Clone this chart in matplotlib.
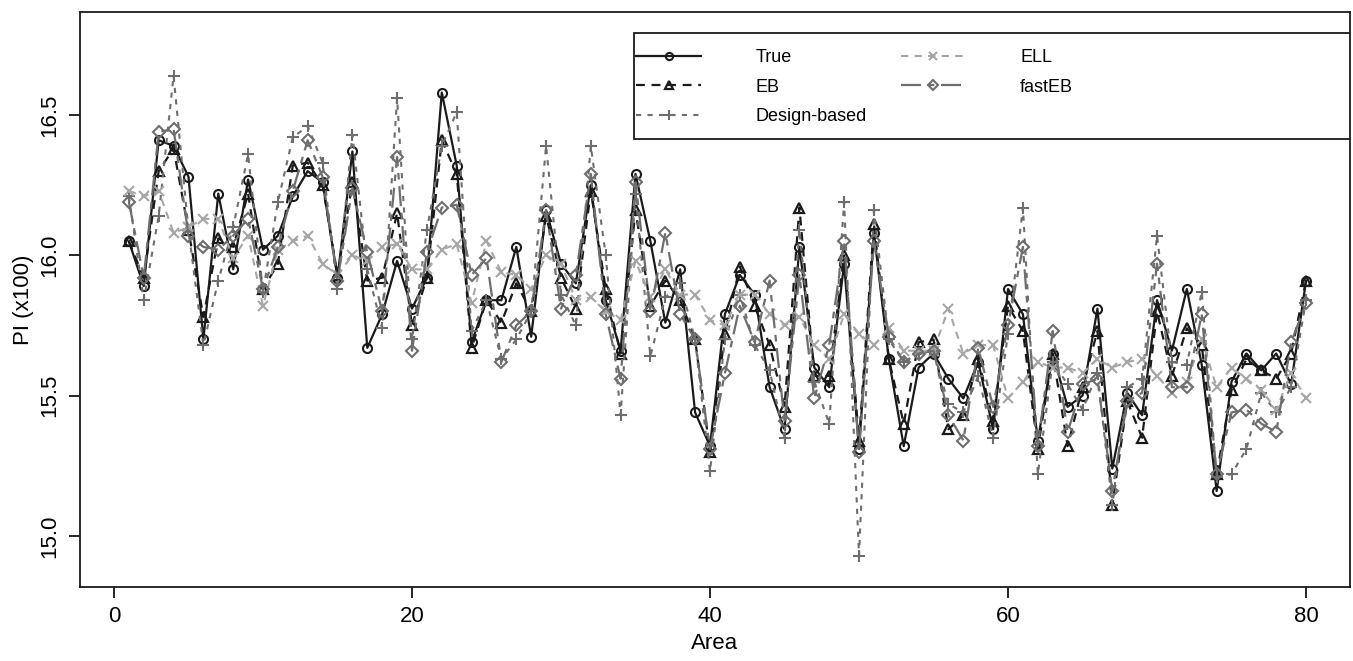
import numpy as np
import matplotlib
matplotlib.use("Agg")
import matplotlib.pyplot as plt
from matplotlib.patches import Rectangle

plt.rcParams['font.family'] = ['Liberation Sans', 'DejaVu Sans']

area = np.arange(1, 81)

true_pi = [16.05, 15.89, 16.41, 16.39, 16.28, 15.70, 16.22, 15.95, 16.27, 16.02,
           16.07, 16.21, 16.30, 16.26, 15.92, 16.37, 15.67, 15.79, 15.98, 15.81,
           15.92, 16.58, 16.32, 15.69, 15.84, 15.84, 16.03, 15.71, 16.16, 15.97,
           15.90, 16.25, 15.84, 15.66, 16.29, 16.05, 15.76, 15.95, 15.44, 15.32,
           15.79, 15.93, 15.86, 15.53, 15.38, 16.03, 15.60, 15.53, 15.97, 15.31,
           16.08, 15.63, 15.32, 15.60, 15.65, 15.56, 15.49, 15.62, 15.38, 15.88,
           15.79, 15.34, 15.65, 15.46, 15.50, 15.81, 15.24, 15.51, 15.43, 15.84,
           15.66, 15.88, 15.61, 15.16, 15.55, 15.65, 15.59, 15.65, 15.54, 15.91]

eb = [16.05, 15.92, 16.30, 16.38, 16.09, 15.78, 16.06, 16.03, 16.22, 15.88,
      15.97, 16.32, 16.33, 16.25, 15.93, 16.26, 15.91, 15.92, 16.15, 15.75,
      15.92, 16.41, 16.29, 15.67, 15.84, 15.76, 15.90, 15.80, 16.14, 15.92,
      15.81, 16.23, 15.88, 15.65, 16.16, 15.82, 15.91, 15.84, 15.70, 15.30,
      15.72, 15.96, 15.82, 15.68, 15.46, 16.17, 15.57, 15.57, 16.00, 15.34,
      16.11, 15.63, 15.40, 15.69, 15.70, 15.38, 15.43, 15.63, 15.41, 15.82,
      15.73, 15.31, 15.65, 15.32, 15.53, 15.73, 15.11, 15.48, 15.35, 15.80,
      15.57, 15.74, 15.68, 15.22, 15.52, 15.63, 15.59, 15.56, 15.65, 15.91]

design = [16.21, 15.84, 16.14, 16.64, 16.09, 15.68, 15.91, 16.10, 16.36, 15.87,
          16.19, 16.42, 16.46, 16.33, 15.88, 16.43, 15.95, 15.74, 16.56, 15.70,
          16.09, 16.39, 16.51, 15.73, 15.84, 15.63, 15.70, 15.80, 16.39, 15.86,
          15.75, 16.39, 16.00, 15.43, 16.22, 15.64, 15.85, 15.90, 15.70, 15.23,
          15.70, 15.86, 15.68, 15.59, 15.35, 16.09, 15.55, 15.40, 16.19, 14.93,
          16.16, 15.70, 15.62, 15.65, 15.66, 15.47, 15.44, 15.57, 15.35, 15.72,
          16.17, 15.22, 15.62, 15.54, 15.45, 15.58, 15.11, 15.53, 15.56, 16.07,
          15.62, 15.61, 15.87, 15.21, 15.22, 15.31, 15.51, 15.44, 15.53, 15.84]

ell = [16.23, 16.21, 16.23, 16.08, 16.10, 16.13, 16.13, 15.99, 16.07, 15.82,
       16.02, 16.05, 16.07, 15.97, 15.93, 16.00, 15.98, 16.03, 16.04, 15.95,
       15.95, 16.02, 16.04, 15.83, 16.05, 15.94, 15.93, 15.88, 16.00, 15.97,
       15.84, 15.85, 15.80, 15.77, 15.98, 15.85, 15.95, 15.86, 15.86, 15.77,
       15.75, 15.86, 15.86, 15.79, 15.75, 15.78, 15.68, 15.63, 15.79, 15.72,
       15.68, 15.74, 15.66, 15.66, 15.66, 15.81, 15.65, 15.68, 15.68, 15.49,
       15.55, 15.62, 15.60, 15.60, 15.58, 15.63, 15.60, 15.62, 15.63, 15.57,
       15.51, 15.55, 15.70, 15.53, 15.60, 15.56, 15.52, 15.45, 15.58, 15.49]

fast_eb = [16.19, 15.92, 16.44, 16.45, 16.07, 16.03, 16.02, 16.07, 16.13, 15.88,
           16.03, 16.23, 16.41, 16.28, 15.91, 16.24, 16.01, 15.80, 16.35, 15.66,
           16.01, 16.17, 16.18, 15.93, 15.99, 15.62, 15.75, 15.80, 16.16, 15.81,
           15.93, 16.29, 15.79, 15.56, 16.26, 15.80, 16.08, 15.79, 15.70, 15.31,
           15.58, 15.82, 15.69, 15.91, 15.41, 15.93, 15.49, 15.68, 16.05, 15.30,
           16.05, 15.71, 15.62, 15.65, 15.66, 15.43, 15.34, 15.67, 15.46, 15.75,
           16.03, 15.32, 15.73, 15.37, 15.54, 15.56, 15.16, 15.48, 15.51, 15.97,
           15.53, 15.53, 15.79, 15.22, 15.44, 15.45, 15.40, 15.37, 15.69, 15.83]

fig = plt.figure(figsize=(13.53, 6.61), dpi=100)
ax = fig.add_axes([80 / 1353, 74 / 661, 1270 / 1353, 575 / 661])

ax.plot(area, true_pi, color="#1a1a1a", lw=1.6, ls="-", marker="o", ms=6.5,
        mfc="none", mew=1.5, label="True")
ax.plot(area, eb, color="#1a1a1a", lw=1.6, ls=(0, (4, 3)), marker="^", ms=7,
        mfc="none", mew=1.6, label="EB")
ax.plot(area, design, color="#6e6e6e", lw=1.5, ls=(0, (2.5, 3)), marker="+", ms=9,
        mew=1.5, label="Design-based")
ax.plot(area, ell, color="#a6a6a6", lw=1.5, ls=(0, (3.5, 3)), marker="x", ms=7,
        mew=1.5, label="ELL")
ax.plot(area, fast_eb, color="#6e6e6e", lw=1.6, ls=(0, (9, 3, 3, 3)), marker="D",
        ms=6, mfc="none", mew=1.5, label="fastEB")

ax.set_xlim(-2.28, 82.95)
ax.set_ylim(14.818, 16.867)
ax.set_xticks([0, 20, 40, 60, 80])
ax.set_yticks([15.0, 15.5, 16.0, 16.5])
ax.set_yticklabels(["15.0", "15.5", "16.0", "16.5"], rotation=90, va="center")
ax.tick_params(direction="out", length=8, width=1.2, labelsize=16, pad=6)
for s in ax.spines.values():
    s.set_linewidth(1.3)
    s.set_color("#1a1a1a")

ax.set_xlabel("Area", fontsize=16, labelpad=4)
ax.set_ylabel("PI (x100)", fontsize=16, labelpad=4)

# legend box runs to the right edge of the plot, like R's legend()
ax.add_patch(Rectangle((0.436, 0.779), 0.564, 0.1845, transform=ax.transAxes,
                       facecolor="white", edgecolor="#1a1a1a", lw=1.3, zorder=4))
leg = ax.legend(ncol=2, loc="upper left", bbox_to_anchor=(0.438, 0.935),
                fontsize=13, frameon=False, handlelength=3.6, handletextpad=3.0,
                columnspacing=1.9, labelspacing=0.68, borderpad=0,
                markerscale=0.8, borderaxespad=0)
leg.set_zorder(5)

fig.savefig("out.png", dpi=100)
